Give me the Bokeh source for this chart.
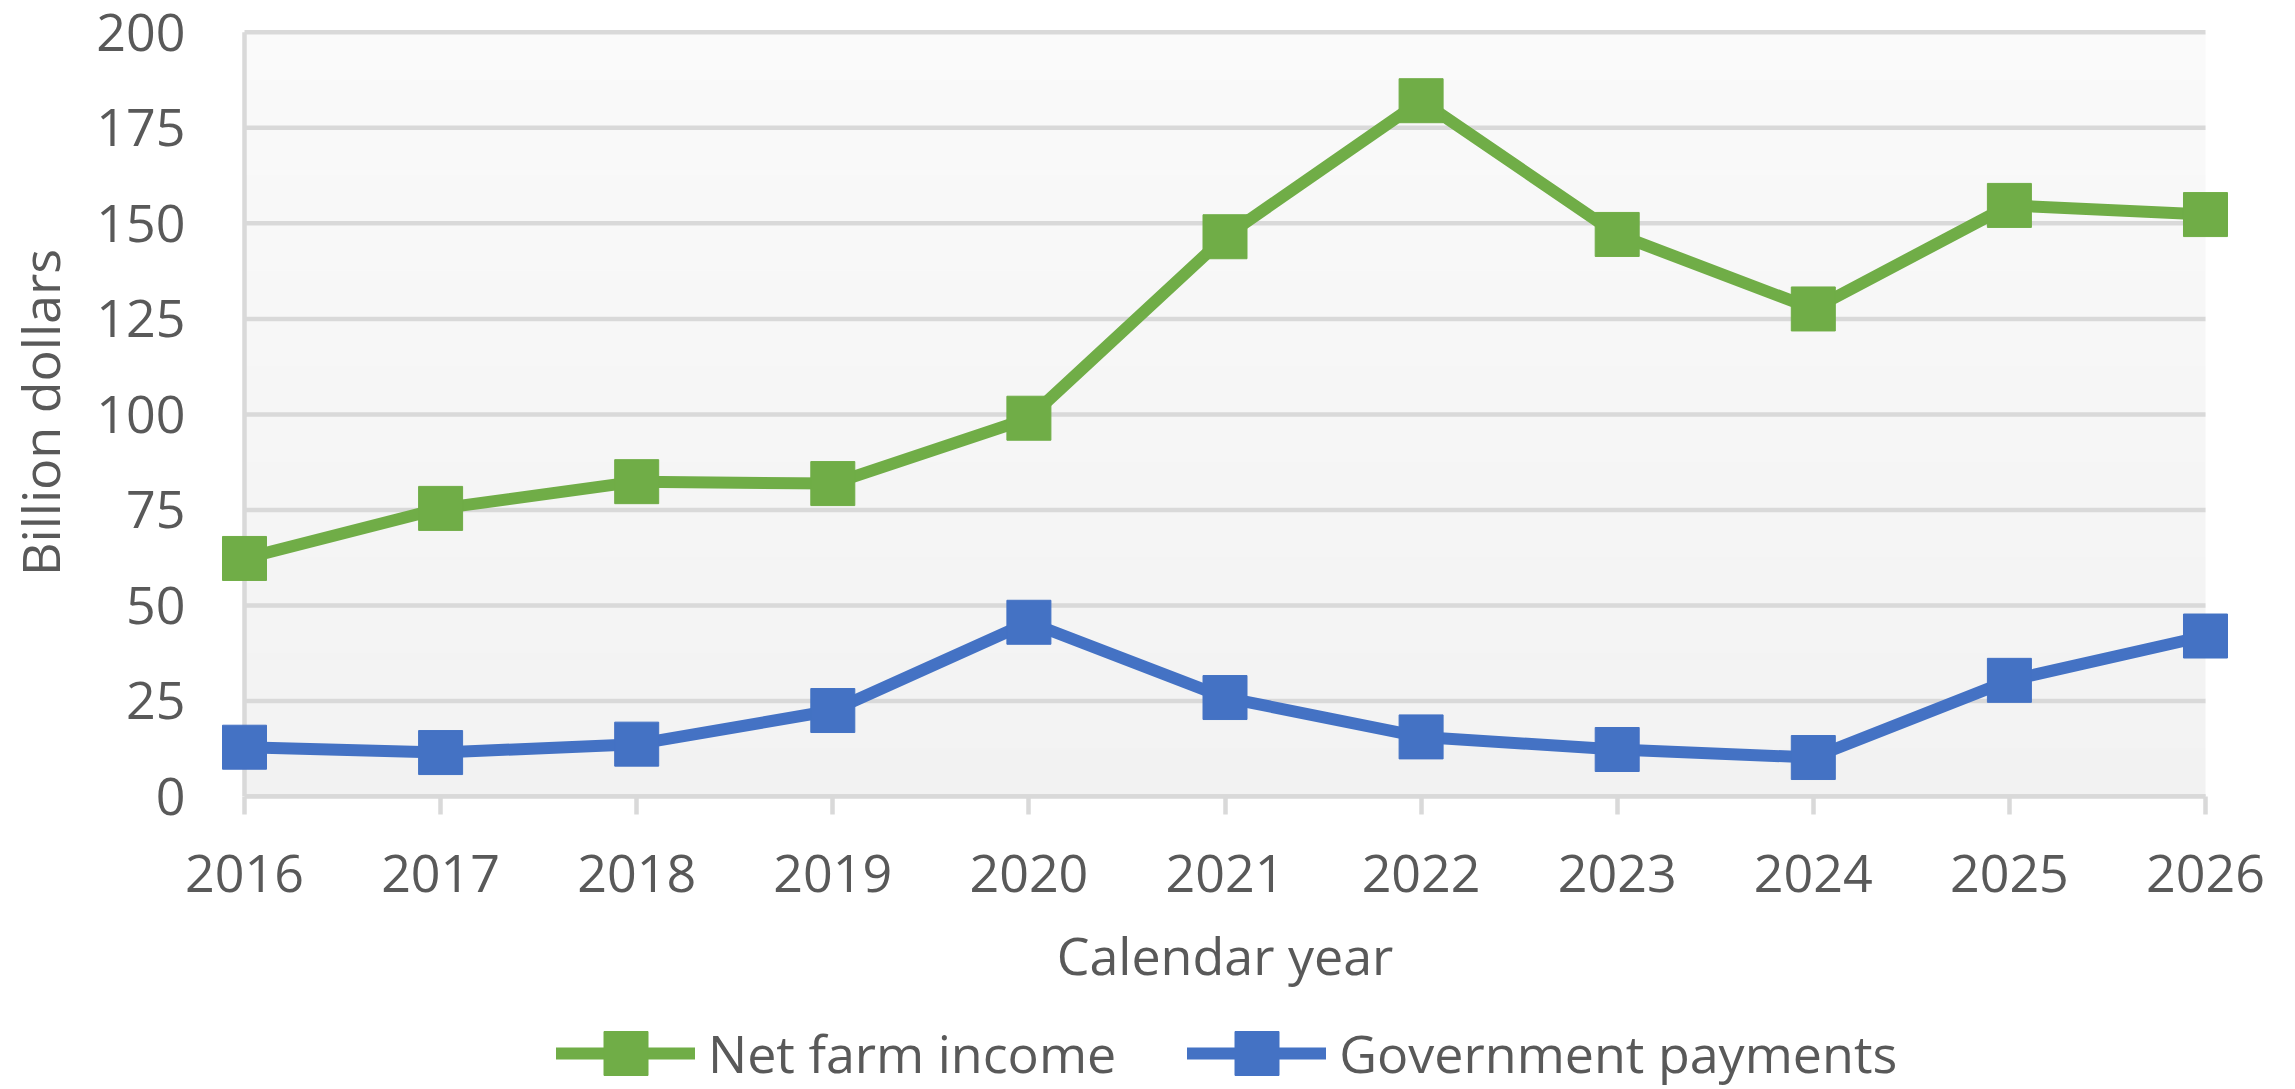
import numpy as np
from bokeh.plotting import figure
from bokeh.layouts import column
from bokeh.models import Range1d, FixedTicker, Legend, LegendItem
from bokeh.embed import file_html
from bokeh.resources import INLINE

# ---- data ----
years = [2016, 2017, 2018, 2019, 2020, 2021, 2022, 2023, 2024, 2025, 2026]
net_farm_income = [62.3, 75.4, 82.4, 81.9, 99.0, 146.5, 182.1, 147.1, 127.6, 154.7, 152.3]
government_payments = [12.9, 11.5, 13.7, 22.5, 45.6, 25.9, 15.6, 12.3, 10.2, 30.4, 42.0]
y_ticks = [0, 25, 50, 75, 100, 125, 150, 175, 200]
series_names = ["Net farm income", "Government payments"]
series_values = [net_farm_income, government_payments]

FONT = "Open Sans"
FONT_SIZE = "52px"
TEXT = "#595959"
GRID = "#D9D9D9"
COLORS = ["#70AD47", "#4472C4"]
X_PAD = 0.1326   # room so the end markers are not clipped by the frame
Y_PAD = 1.0
LINE_W = 12
MARKER = 44
W = 2295
BL, BR = 218, 64

p = figure(width=W, height=1002, output_backend="svg", toolbar_location=None,
           x_range=Range1d(years[0] - X_PAD, years[-1] + X_PAD),
           y_range=Range1d(y_ticks[0], y_ticks[-1] + Y_PAD),
           min_border_left=BL, min_border_right=BR,
           min_border_top=28, min_border_bottom=206)
p.outline_line_color = None
p.background_fill_color = "white"
p.border_fill_color = "white"
p.grid.visible = False

# subtle vertical gradient behind the plot area
n = 256
t = np.linspace(0, 1, n)
top = np.array([250, 250, 250]); bot = np.array([242, 242, 242])
img = np.zeros((n, 1), dtype=np.uint32)
view = img.view(dtype=np.uint8).reshape((n, 1, 4))
for i in range(n):
    c = bot + (top - bot) * t[i]
    view[i, 0, 0] = int(round(c[0])); view[i, 0, 1] = int(round(c[1]))
    view[i, 0, 2] = int(round(c[2])); view[i, 0, 3] = 255
p.image_rgba(image=[img], x=years[0], y=y_ticks[0], dw=years[-1] - years[0],
             dh=y_ticks[-1] - y_ticks[0], level="image")

# horizontal grid lines limited to the plot area, and the left axis rule
p.segment(x0=[years[0]] * len(y_ticks), x1=[years[-1]] * len(y_ticks),
          y0=y_ticks, y1=y_ticks, line_color=GRID, line_width=4.5, level="underlay")
p.segment(x0=[years[0]], x1=[years[0]], y0=[y_ticks[0]], y1=[y_ticks[-1]],
          line_color=GRID, line_width=4.5, level="underlay")

# axes
xa = p.xaxis[0]
xa.ticker = FixedTicker(ticks=years)
xa.bounds = (years[0], years[-1])
xa.axis_line_color = GRID
xa.axis_line_width = 4.5
xa.major_tick_line_color = GRID
xa.major_tick_line_width = 4.5
xa.major_tick_out = 18
xa.major_tick_in = 0
xa.minor_tick_line_color = None
xa.major_label_standoff = 40
xa.major_label_text_font = FONT
xa.major_label_text_font_size = FONT_SIZE
xa.major_label_text_color = TEXT
xa.axis_label = "Calendar year"
xa.axis_label_text_font = FONT
xa.axis_label_text_font_size = FONT_SIZE
xa.axis_label_text_color = TEXT
xa.axis_label_text_font_style = "normal"
xa.axis_label_standoff = 24

ya = p.yaxis[0]
ya.ticker = FixedTicker(ticks=y_ticks)
ya.axis_line_color = None
ya.major_tick_line_color = None
ya.major_tick_out = 0
ya.major_tick_in = 0
ya.minor_tick_line_color = None
ya.major_label_standoff = 33
ya.major_label_text_font = FONT
ya.major_label_text_font_size = FONT_SIZE
ya.major_label_text_color = TEXT
ya.axis_label = "Billion dollars"
ya.axis_label_text_font = FONT
ya.axis_label_text_font_size = FONT_SIZE
ya.axis_label_text_color = TEXT
ya.axis_label_text_font_style = "normal"
ya.axis_label_standoff = 18

# series
for vals, col in zip(series_values, COLORS):
    p.line(years, vals, line_color=col, line_width=LINE_W,
           line_join="round", line_cap="round")
    p.scatter(years, vals, marker="square", size=MARKER,
              fill_color=col, line_color=col)

# legend strip below the chart (same horizontal extent as the plot area);
# its series renderers sit outside the strip's visible range, only the key shows
LG_H = 87
lg = figure(width=W, height=LG_H, output_backend="svg", toolbar_location=None,
            x_axis_location=None, y_axis_location=None,
            x_range=Range1d(years[0], years[-1]),
            y_range=Range1d(-y_ticks[-1], -y_ticks[-2]),
            min_border_left=BL, min_border_right=BR,
            min_border_top=0, min_border_bottom=0)
lg.outline_line_color = None
lg.grid.visible = False
lg.border_fill_color = "white"
lg.background_fill_color = "white"
items = []
for name, vals, col in zip(series_names, series_values, COLORS):
    rl = lg.line(years, vals, line_color=col, line_width=LINE_W, line_cap="round")
    rs = lg.scatter(years, vals, marker="square", size=MARKER,
                    fill_color=col, line_color=col)
    items.append(LegendItem(label=name, renderers=[rl, rs]))
GLYPH_H = 110
legend_center_from_top = 50.5
legend = Legend(items=items, orientation="horizontal",
                location=(556 - BL, LG_H - legend_center_from_top - GLYPH_H / 2),
                glyph_width=139, glyph_height=GLYPH_H, label_standoff=13, spacing=71,
                padding=0, margin=0, border_line_alpha=0, background_fill_alpha=0,
                label_text_font=FONT, label_text_font_size=FONT_SIZE,
                label_text_color=TEXT)
lg.add_layout(legend, "center")

open("out.html", "w").write(file_html(column(p, lg, spacing=0), INLINE))
